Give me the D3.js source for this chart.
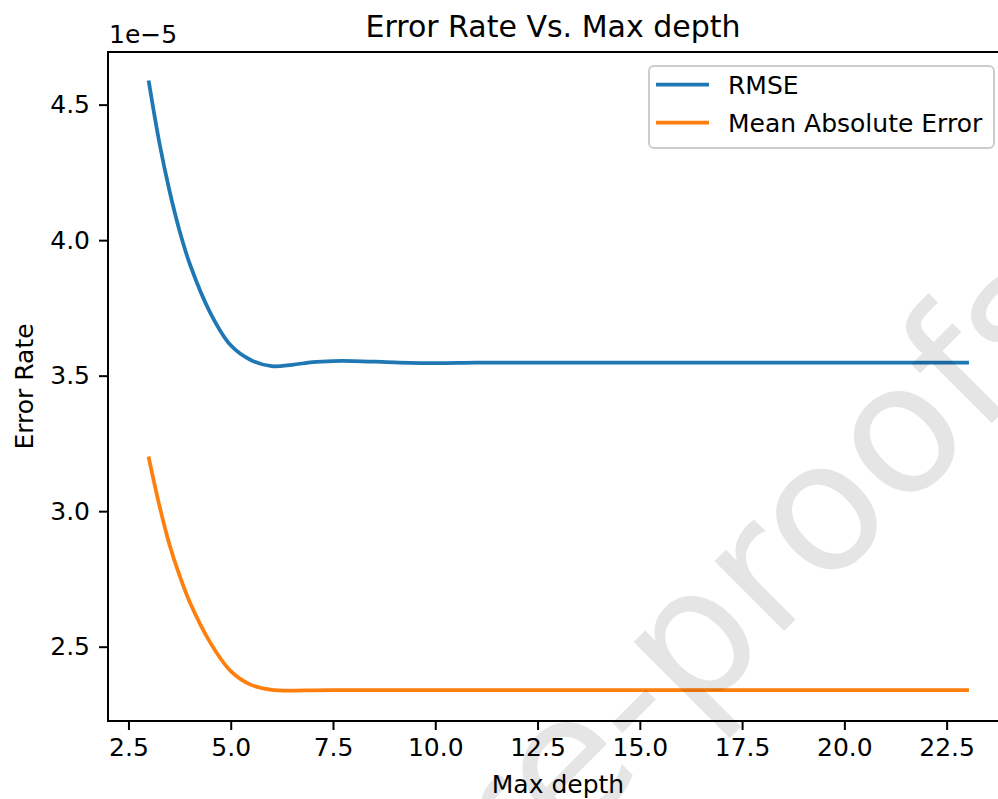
<!DOCTYPE html>
<html><head><meta charset="utf-8">
<script src="https://cdn.jsdelivr.net/npm/d3@7"></script>
<style>body{margin:0;background:#fff}svg{display:block}text{font-family:"DejaVu Sans",sans-serif}</style>
</head><body>
<svg id="c" width="998" height="799"></svg>
<script>
const depth = [3,3.25,3.5,3.75,4,4.5,5,5.5,6,6.5,7,7.5,8,9,10,11,12,13,14,15,16,17,18,19,20,21,22,23];
const rmse  = [4.582,4.364,4.184,4.034,3.912,3.732,3.612,3.557,3.535,3.540,3.550,3.554,3.554,3.549,3.546,3.548,3.548,3.548,3.548,3.548,3.548,3.548,3.548,3.548,3.548,3.548,3.548,3.548];
const mae   = [3.195,3.025,2.878,2.762,2.664,2.515,2.410,2.359,2.341,2.338,2.339,2.340,2.340,2.340,2.340,2.340,2.340,2.340,2.340,2.340,2.340,2.340,2.340,2.340,2.340,2.340,2.340,2.340];
const seriesNames = ["RMSE","Mean Absolute Error"];
const colors = ["#1f77b4","#ff7f0e"];
const xTicks = [2.5,5,7.5,10,12.5,15,17.5,20,22.5];
const yTicks = [2.5,3.0,3.5,4.0,4.5];
const title = "Error Rate Vs. Max depth";
const xLabel = "Max depth";
const yLabel = "Error Rate";
const offsetText = "1e\u22125";
const watermark = "Journal Pre-proofs";

const svg = d3.select("#c");
const L=108,R=1008,T=52,B=721;
svg.append("rect").attr("width",998).attr("height",799).attr("fill","#fff");

function pad(ext){const r=ext[1]-ext[0];return [ext[0]-0.05*r,ext[1]+0.05*r];}
const x = d3.scaleLinear().domain(pad(d3.extent(depth))).range([L,R]);
const y = d3.scaleLinear().domain(pad(d3.extent(rmse.concat(mae)))).range([B,T]);

const fs=25;
// x axis
const xa = svg.append("g").attr("transform",`translate(0,${B})`)
  .call(d3.axisBottom(x).tickValues(xTicks).tickFormat(d3.format(".1f")).tickSize(9).tickPadding(8));
xa.select(".domain").remove();
xa.selectAll("line").attr("stroke","#000").attr("stroke-width",2);
xa.selectAll("text").attr("font-size",fs).attr("fill","#000").attr("font-family","DejaVu Sans");
// y axis
const ya = svg.append("g").attr("transform",`translate(${L},0)`)
  .call(d3.axisLeft(y).tickValues(yTicks).tickFormat(d3.format(".1f")).tickSize(9).tickPadding(9));
ya.select(".domain").remove();
ya.selectAll("line").attr("stroke","#000").attr("stroke-width",2);
ya.selectAll("text").attr("font-size",fs).attr("fill","#000").attr("font-family","DejaVu Sans");

// lines
const line = d3.line().x((d,i)=>x(depth[i])).y(d=>y(d)).curve(d3.curveCatmullRom.alpha(0.5));
[rmse,mae].forEach((s,k)=>{
  svg.append("path").attr("d",line(s)).attr("fill","none").attr("stroke",colors[k])
    .attr("stroke-width",3.75).attr("stroke-linecap","square").attr("stroke-linejoin","round");
});

// spines
svg.append("rect").attr("x",L).attr("y",T).attr("width",R-L).attr("height",B-T)
  .attr("fill","none").attr("stroke","#000").attr("stroke-width",2);

// title, labels
svg.append("text").attr("x",553).attr("y",37).attr("text-anchor","middle").attr("font-size",30).text(title);
svg.append("text").attr("x",(L+R)/2).attr("y",793).attr("text-anchor","middle").attr("font-size",fs).text(xLabel);
svg.append("text").attr("transform",`translate(33,${(T+B)/2}) rotate(-90)`).attr("text-anchor","middle").attr("font-size",fs).text(yLabel);
svg.append("text").attr("x",L+1).attr("y",43).attr("font-size",fs).text(offsetText);

// legend
const lg = svg.append("g");
lg.append("rect").attr("x",649).attr("y",66).attr("width",345).attr("height",82).attr("rx",5)
  .attr("fill","#fff").attr("fill-opacity",0.8).attr("stroke","#cccccc").attr("stroke-width",2);
seriesNames.forEach((n,k)=>{
  const yy = 84.5 + k*38;
  lg.append("line").attr("x1",656).attr("x2",709).attr("y1",yy).attr("y2",yy)
    .attr("stroke",colors[k]).attr("stroke-width",3.75);
  lg.append("text").attr("x",728).attr("y",yy+9).attr("font-size",fs).text(n);
});

// watermark
svg.append("text").attr("transform","translate(1089,326) rotate(-45)")
  .attr("text-anchor","end").attr("font-family","Open Sans").attr("font-size",180)
  .attr("fill","#000").attr("fill-opacity",0.1).text(watermark);
</script>
</body></html>
